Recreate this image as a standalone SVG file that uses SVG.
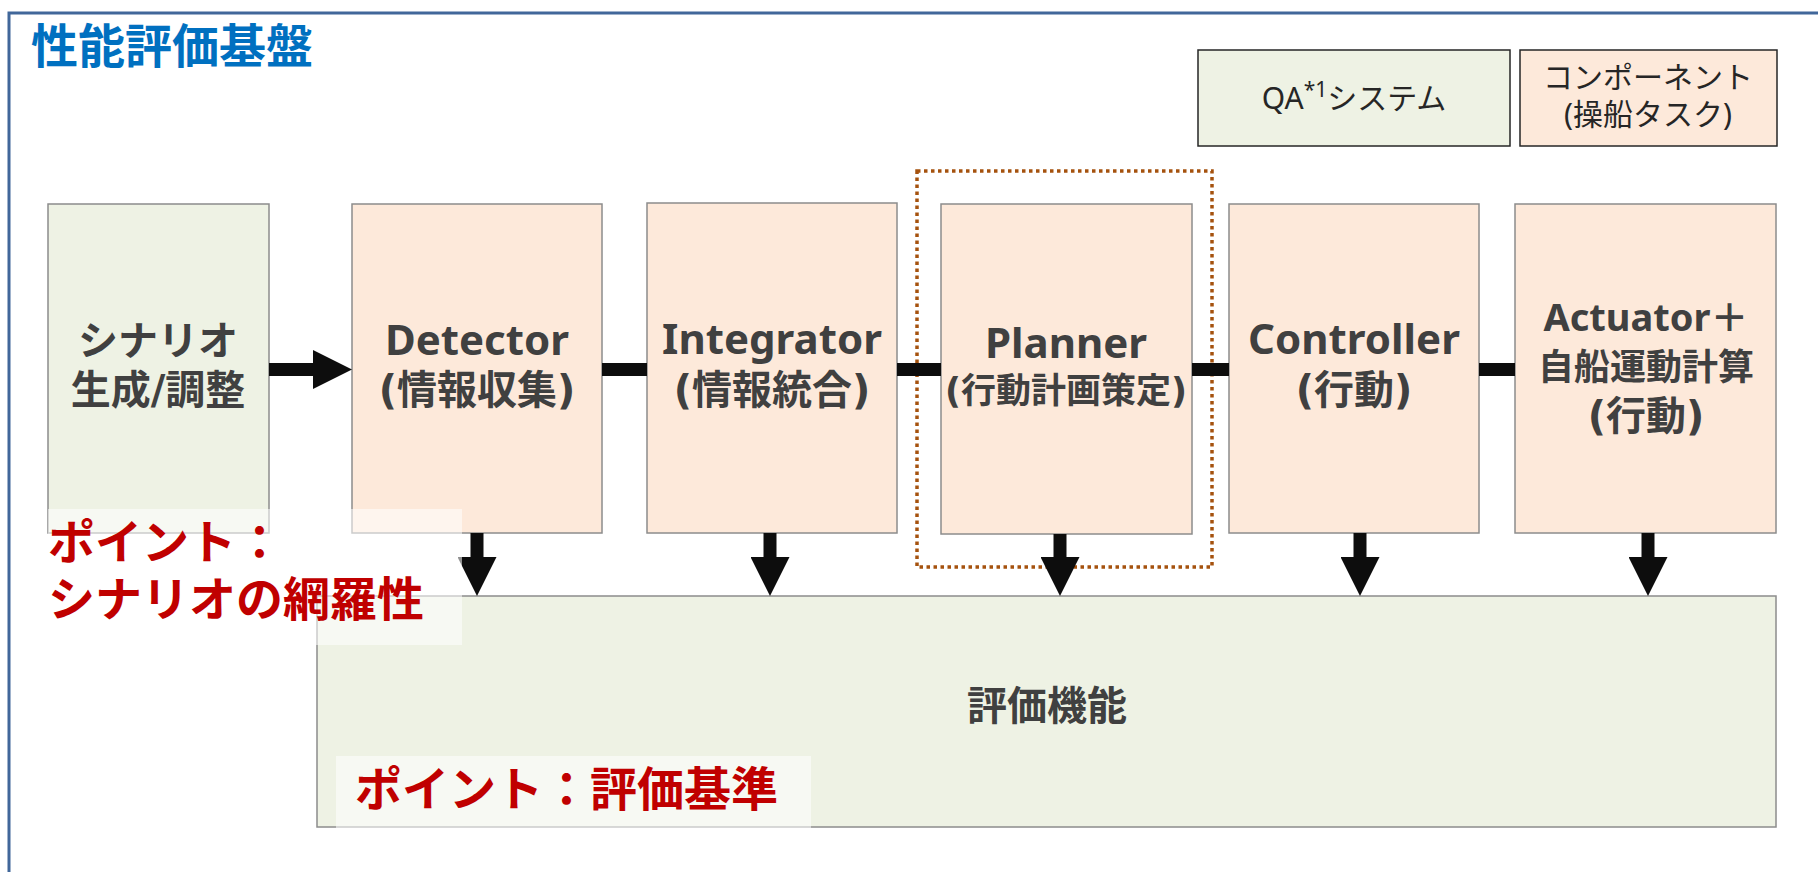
<svg xmlns="http://www.w3.org/2000/svg" width="1818" height="872" viewBox="0 0 1818 872">
<style>
.frame{fill:none;stroke:#41679a;stroke-width:3}
.title{font-family:"Noto Sans CJK JP",sans-serif;font-weight:bold;font-size:47px;fill:#0070C0}
.green{fill:#EEF2E4;stroke:#8c8c8c;stroke-width:1.5}
.peach{fill:#FDE9DA;stroke:#8c8c8c;stroke-width:1.5}
.lgreen{fill:#EEF2E4;stroke:#262626;stroke-width:1.5}
.lpeach{fill:#FDE9DA;stroke:#262626;stroke-width:1.5}
.lt{font-family:"Noto Sans","Noto Sans CJK JP",sans-serif;font-size:30px;fill:#262626;text-anchor:middle}
.en{font-family:"Noto Sans","Noto Sans CJK JP",sans-serif;font-weight:bold;font-size:42px;fill:#404040;text-anchor:middle}
.jp{font-family:"DejaVu Sans","Noto Sans CJK JP",sans-serif;font-weight:bold;font-size:40px;fill:#404040;text-anchor:middle}
.dotted{fill:none;stroke:#A5520E;stroke-width:3.5;stroke-dasharray:3.5 3.5}
.conn{stroke:#0d0d0d;stroke-width:13;fill:none}
.lbg{fill:#ffffff;fill-opacity:0.55}
.red{font-family:"Noto Sans CJK JP",sans-serif;font-weight:bold;font-size:47px;fill:#C00000}
</style>
<defs>
<marker id="ah" viewBox="0 0 39 39" refX="0" refY="19.5" markerWidth="39" markerHeight="39" markerUnits="userSpaceOnUse" orient="auto">
<path d="M0,0 L39,19.5 L0,39 Z" fill="#0d0d0d"/>
</marker>
</defs>
<rect class="frame" x="9" y="13" width="1830" height="900"/>
<text class="title" x="31" y="63">性能評価基盤</text>

<g id="legend-qa">
<rect class="lgreen" x="1198" y="50" width="312" height="96"/>
<text class="lt" x="1354" y="109">QA<tspan style="font-size:21px" dy="-12">*1</tspan><tspan dy="12">システム</tspan></text>
</g>
<g id="legend-component">
<rect class="lpeach" x="1520" y="50" width="257" height="96"/>
<text class="lt" x="1648" y="88">コンポーネント</text>
<text class="lt" x="1648" y="125">(操船タスク)</text>
</g>

<g id="scenario">
<rect class="green" x="48" y="204" width="221" height="329"/>
<text class="jp" x="158" y="355">シナリオ</text>
<text class="jp" x="158" y="404">生成/調整</text>
</g>
<g id="detector">
<rect class="peach" x="352" y="204" width="250" height="329"/>
<text class="en" x="477" y="355">Detector</text>
<text class="jp" x="477" y="404">(情報収集)</text>
</g>
<g id="integrator">
<rect class="peach" x="647" y="203" width="250" height="330"/>
<text class="en" x="772" y="354">Integrator</text>
<text class="jp" x="772" y="404">(情報統合)</text>
</g>
<g id="planner">
<rect class="peach" x="941" y="204" width="251" height="330"/>
<text class="en" x="1066" y="358">Planner</text>
<text class="jp" x="1066" y="403" style="font-size:35px">(行動計画策定)</text>
</g>
<g id="planner-focus">
<rect class="dotted" x="917" y="171" width="295" height="396"/>
</g>
<g id="controller">
<rect class="peach" x="1229" y="204" width="250" height="329"/>
<text class="en" x="1354" y="354">Controller</text>
<text class="jp" x="1354" y="404">(行動)</text>
</g>
<g id="actuator">
<rect class="peach" x="1515" y="204" width="261" height="329"/>
<text class="en" x="1646" y="331" style="font-size:38px">Actuator＋</text>
<text class="jp" x="1646" y="380" style="font-size:36px">自船運動計算</text>
<text class="jp" x="1646" y="430">(行動)</text>
</g>
<g id="evaluation">
<rect class="green" x="317" y="596" width="1459" height="231"/>
<text class="jp" x="1047" y="720">評価機能</text>
</g>

<g id="connectors">
<line class="conn" x1="269" y1="369.5" x2="313" y2="369.5" marker-end="url(#ah)"/>
<line class="conn" x1="602" y1="369.5" x2="647" y2="369.5"/>
<line class="conn" x1="897" y1="369.5" x2="941" y2="369.5"/>
<line class="conn" x1="1192" y1="369.5" x2="1229" y2="369.5"/>
<line class="conn" x1="1479" y1="369.5" x2="1515" y2="369.5"/>
<line class="conn" x1="477" y1="533" x2="477" y2="557" marker-end="url(#ah)"/>
<line class="conn" x1="770" y1="533" x2="770" y2="557" marker-end="url(#ah)"/>
<line class="conn" x1="1060" y1="534" x2="1060" y2="557" marker-end="url(#ah)"/>
<line class="conn" x1="1360" y1="533" x2="1360" y2="557" marker-end="url(#ah)"/>
<line class="conn" x1="1648" y1="533" x2="1648" y2="557" marker-end="url(#ah)"/>
</g>

<g id="point-scenario">
<rect class="lbg" x="48" y="509" width="414" height="136"/>
<text class="red" x="48" y="559">ポイント：</text>
<text class="red" x="48" y="616">シナリオの網羅性</text>
</g>
<g id="point-criteria">
<rect class="lbg" x="336" y="756" width="475" height="72"/>
<text class="red" x="355" y="806">ポイント：評価基準</text>
</g>
</svg>
